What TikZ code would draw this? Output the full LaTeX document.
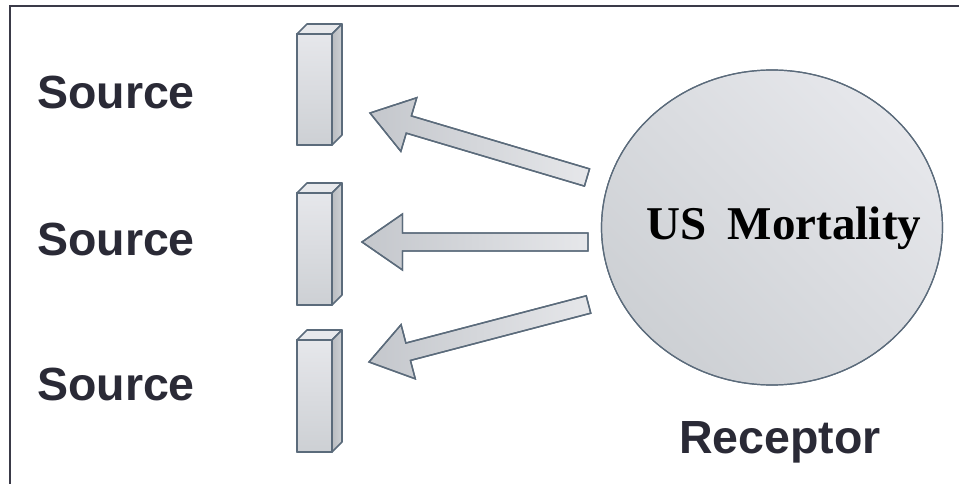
\documentclass[tikz,border=0pt]{standalone}
\usepackage{fontspec}
\setmainfont{Liberation Sans}
\newfontfamily\serifbold{Liberation Serif}
\usetikzlibrary{calc}
\definecolor{edge}{HTML}{5B6B7B}
\definecolor{txt}{HTML}{2A2A36}
\definecolor{frame}{HTML}{3A3A48}
\definecolor{faceA}{HTML}{E6E7EB}
\definecolor{faceB}{HTML}{CDD0D4}
\definecolor{sideC}{HTML}{B9BCC0}
\definecolor{topC}{HTML}{E8E9EC}
\definecolor{arrA}{HTML}{C4C7CC}
\definecolor{arrB}{HTML}{E6E7EA}
\tikzset{
  label text/.style={font=\bfseries\fontsize{46.5}{50}\selectfont, text=txt, inner sep=0pt, anchor=base},
  barface/.style={draw=edge, line width=1.6pt, line join=round, top color=faceA, bottom color=faceB},
  bartop/.style={draw=edge, line width=1.6pt, line join=round, fill=topC},
  barside/.style={draw=edge, line width=1.6pt, line join=round, left color=sideC, right color=faceB},
  blockarrow/.style={draw=edge, line width=1.4pt, line join=miter},
  receptor/.style={draw=edge, line width=1.2pt, left color=faceA, right color=faceB, shading angle=-45},
}
% \blockarr{tip}{tail}{name}
\newcommand{\blockarr}[3]{%
  \coordinate (#3b) at ($(#1)!40.5pt!(#2)$);
  \shade[blockarrow, left color=arrA, right color=arrB]
    (#1) -- ($(#3b)!28pt!90:(#2)$) -- ($(#3b)!9pt!90:(#2)$) -- ($(#2)!9pt!-90:(#3b)$)
    -- ($(#2)!9pt!90:(#3b)$) -- ($(#3b)!9pt!-90:(#2)$) -- ($(#3b)!28pt!-90:(#2)$) -- cycle;
  \draw[blockarrow]
    (#1) -- ($(#3b)!28pt!90:(#2)$) -- ($(#3b)!9pt!90:(#2)$) -- ($(#2)!9pt!-90:(#3b)$)
    -- ($(#2)!9pt!90:(#3b)$) -- ($(#3b)!9pt!-90:(#2)$) -- ($(#3b)!28pt!-90:(#2)$) -- cycle;
}
% \srcbar{top}{bottom}
\newcommand{\srcbar}[2]{%
  \fill[barface] (297,#1) rectangle (332,#2);
  \draw[barface, fill=none] (297,#1) rectangle (332,#2);
  \path[bartop] (297,#1) -- (307,#1-10) -- (342,#1-10) -- (332,#1) -- cycle;
  \path[barside] (332,#1) -- (342,#1-10) -- (342,#2-10) -- (332,#2) -- cycle;
}
\begin{document}
\begin{tikzpicture}[x=1pt,y=-1pt]
\useasboundingbox (0,0) rectangle (959,484);
% frame
\draw[frame, line width=2pt] (10,484) -- (10,6) -- (959,6);
% receptor circle
\fill[faceA] (772,227.5) ellipse [x radius=170.5, y radius=157.5];
\shade[receptor] (772,227.5) ellipse [x radius=170.5, y radius=157.5];
\draw[edge, line width=1.2pt] (772,227.5) ellipse [x radius=170.5, y radius=157.5];
\node[font=\serifbold\bfseries\fontsize{47}{50}\selectfont, inner sep=0pt, anchor=base] (um) at (784,240) {US\hspace{0.45em}Mortality};
\node[label text] (rec) at (780,453) {Receptor};
% sources
\node[label text] (s1) at (116,109) {Source};
\node[label text] (s2) at (116,255) {Source};
\node[label text] (s3) at (116,400) {Source};
% bars
\srcbar{34}{145}
\srcbar{193}{305}
\srcbar{340}{452}
% arrows
\coordinate (tip1) at (370,113);
\coordinate (tail1) at (587,177.5);
\coordinate (tip2) at (362,242);
\coordinate (tail2) at (588,242);
\coordinate (tip3) at (369,362);
\coordinate (tail3) at (588.5,304.5);
\blockarr{tip1}{tail1}{a1}
\blockarr{tip2}{tail2}{a2}
\blockarr{tip3}{tail3}{a3}
\end{tikzpicture}
\end{document}
